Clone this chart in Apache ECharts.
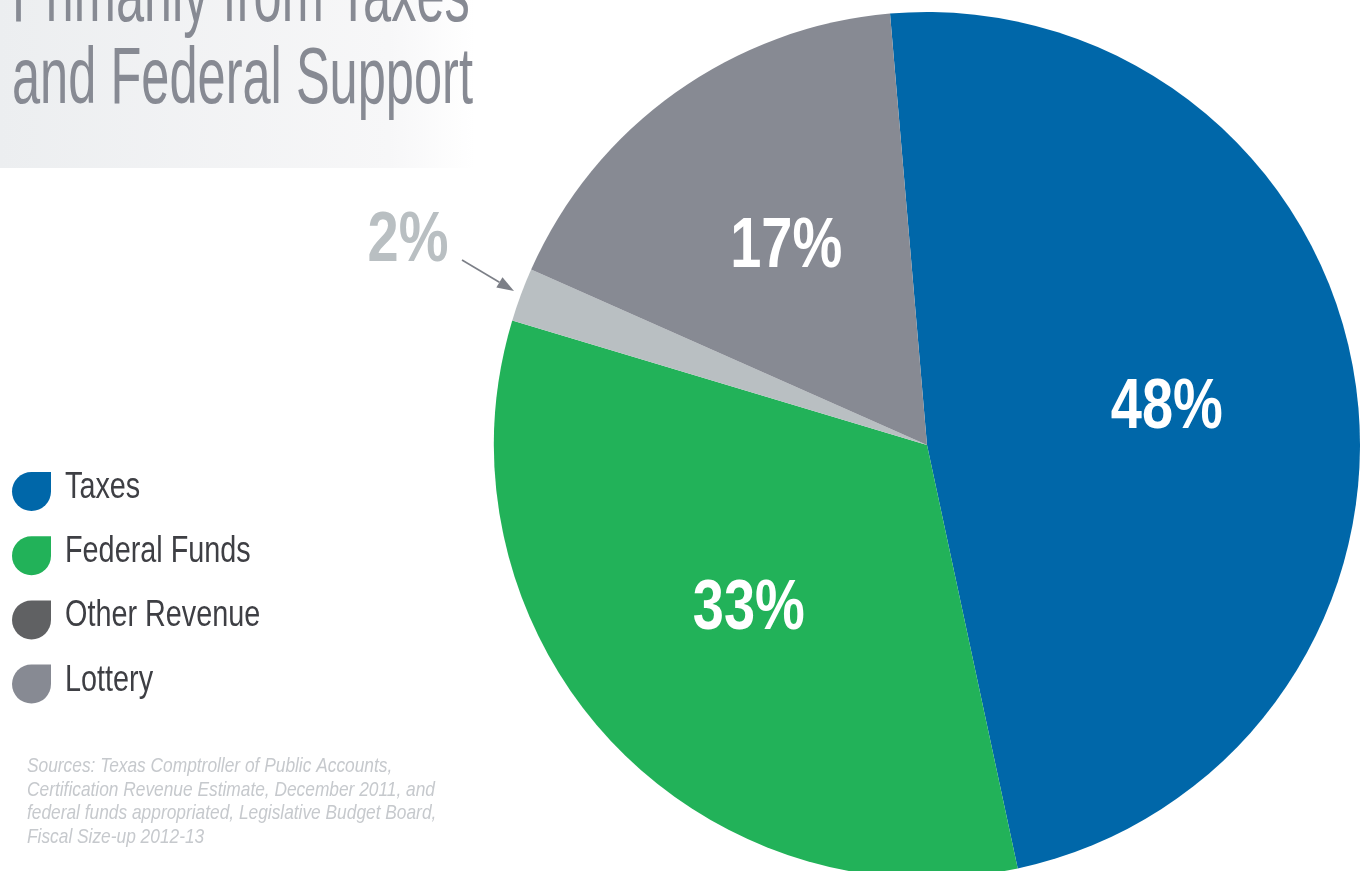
<!DOCTYPE html>
<html>
<head>
<meta charset="utf-8">
<title>Texas Revenue Sources</title>
<script src="https://cdn.jsdelivr.net/npm/echarts@6/dist/echarts.min.js"></script>
<style>
  html, body { margin: 0; padding: 0; background: #ffffff; }
  #chart { width: 1364px; height: 871px; }
</style>
</head>
<body>
<div id="chart"></div>
<script>
// Revenue shares (percent), listed clockwise from the top of the pie
const categories = ['Taxes', 'Federal Funds', 'Lottery', 'Other Revenue'];
const shares = [48, 33, 2, 17];
const sliceColors = ['#0067a9', '#22b259', '#b9bfc2', '#878a93'];

// Legend entries and their swatch colours
const legendNames = ['Taxes', 'Federal Funds', 'Other Revenue', 'Lottery'];
const legendColors = ['#0067a9', '#22b259', '#606163', '#878a93'];

// Headline and source note
const titleLines = ['Primarily from Taxes', 'and Federal Support'];
const sourceLines = [
  'Sources: Texas Comptroller of Public Accounts,',
  'Certification Revenue Estimate, December 2011, and',
  'federal funds appropriated, Legislative Budget Board,',
  'Fiscal Size-up 2012-13'
];

// Liberation Sans squeezed horizontally gives the condensed face of the design
const BASE_FONT = '"Liberation Sans", Arial, sans-serif';
const CENTER = [927, 445];
const RADIUS = 433;
const START_ANGLE = 94.9;
const LABEL_RADIUS = 0.56 * RADIUS;
const SMALL_SLICE = 2; // index of the slice labelled outside with an arrow

// Drop-shaped swatch: a circle with a squared-off top-right corner
const dropIcon = 'path://M50,0 L100,0 L100,50 A50,50 0 0,1 50,100 A50,50 0 0,1 0,50 A50,50 0 0,1 50,0 Z';

const chart = echarts.init(document.getElementById('chart'), null, { renderer: 'canvas' });

const pieData = categories.map((name, i) => ({
  name: name,
  value: shares[i],
  itemStyle: { color: sliceColors[i] }
}));

function condensedText(id, text, x, y, font, fill, scaleX, align) {
  return {
    id: id,
    type: 'text',
    x: x, y: y,
    scaleX: scaleX,
    style: { text: text, font: font, fill: fill, align: align || 'left', verticalAlign: 'middle' },
    z: 10
  };
}

// Callout arrow for the small slice
const arrowFrom = [462, 260];
const arrowTo = [514, 291];
function arrowHead(from, to, len, half) {
  const dx = to[0] - from[0], dy = to[1] - from[1];
  const d = Math.hypot(dx, dy);
  const ux = dx / d, uy = dy / d;
  const bx = to[0] - ux * len, by = to[1] - uy * len;
  return {
    base: [bx, by],
    points: [to, [bx - uy * half, by + ux * half], [bx + uy * half, by - ux * half]]
  };
}
const head = arrowHead(arrowFrom, arrowTo, 17, 6);

const graphics = [
  {
    id: 'headerBand',
    type: 'rect',
    left: 0, top: 0,
    shape: { width: 475, height: 168 },
    style: {
      fill: new echarts.graphic.LinearGradient(0, 0, 1, 0, [
        { offset: 0, color: '#eceef0' },
        { offset: 0.82, color: '#f7f7f8' },
        { offset: 1, color: '#ffffff' }
      ])
    },
    z: 0
  }
];
titleLines.forEach((line, i) => {
  graphics.push(condensedText('title' + i, line, 12, -1 + i * 82,
    '80px ' + BASE_FONT, '#878a93', 0.632));
});
sourceLines.forEach((line, i) => {
  graphics.push(condensedText('source' + i, line, 27, 766 + i * 23.7,
    'italic 21px ' + BASE_FONT, '#c6c9cd', 0.825));
});
// Legend captions, one per legend row
legendNames.forEach((name, i) => {
  graphics.push(condensedText('legendText' + i, name, 65, 488 + i * 64.2,
    '36px ' + BASE_FONT, '#3e3f44', 0.80));
});
graphics.push({
  id: 'arrowLine',
  type: 'polyline',
  shape: { points: [arrowFrom, head.base] },
  style: { stroke: '#7c7f87', lineWidth: 1.6 },
  z: 5
});
graphics.push({
  id: 'arrowHead',
  type: 'polygon',
  shape: { points: head.points },
  style: { fill: '#7c7f87' },
  z: 5
});

const option = {
  animation: false,
  backgroundColor: '#ffffff',
  graphic: graphics,
  legend: {
    orient: 'vertical',
    left: 12,
    top: 472,
    padding: 0,
    itemWidth: 39,
    itemHeight: 39,
    itemGap: 25.2,
    icon: dropIcon,
    selectedMode: false,
    formatter: () => '',
    textStyle: { fontSize: 1 },
    data: legendNames.map((name, i) => ({
      name: name,
      itemStyle: { color: legendColors[i] }
    }))
  },
  series: [
    {
      name: 'Revenue',
      type: 'pie',
      center: CENTER,
      radius: [0, RADIUS],
      startAngle: START_ANGLE,
      clockwise: true,
      silent: true,
      itemStyle: { borderWidth: 0 },
      label: { show: false },
      labelLine: { show: false },
      emphasis: { disabled: true },
      data: pieData
    }
  ]
};

chart.setOption(option);

// Percentage labels: read each slice's angles from the pie layout and put the
// value text at a fixed fraction of the radius along the slice's mid-angle.
function sliceMidAngle(i) {
  try {
    const layout = chart.getModel().getSeriesByIndex(0).getData().getItemLayout(i);
    if (layout && isFinite(layout.startAngle)) {
      return { mid: (layout.startAngle + layout.endAngle) / 2, cx: layout.cx, cy: layout.cy };
    }
  } catch (e) { /* fall back to the same geometry computed from the shares */ }
  const total = shares.reduce((a, b) => a + b, 0);
  const before = shares.slice(0, i).reduce((a, b) => a + b, 0);
  const start = -START_ANGLE * Math.PI / 180;
  const mid = start + (before + shares[i] / 2) / total * Math.PI * 2;
  return { mid: mid, cx: CENTER[0], cy: CENTER[1] };
}

const labelGraphics = [];
shares.forEach((v, i) => {
  const text = v + '%';
  const font = 'bold 70px ' + BASE_FONT;
  if (i === SMALL_SLICE) {
    labelGraphics.push(condensedText('valueLabel' + i, text, 408, 242, font, '#b9bfc2', 0.80, 'center'));
  } else {
    const a = sliceMidAngle(i);
    const x = a.cx + LABEL_RADIUS * Math.cos(a.mid);
    const y = a.cy + LABEL_RADIUS * Math.sin(a.mid);
    labelGraphics.push(condensedText('valueLabel' + i, text, x, y, font, '#ffffff', 0.80, 'center'));
  }
});
chart.setOption({ graphic: labelGraphics });
</script>
</body>
</html>
